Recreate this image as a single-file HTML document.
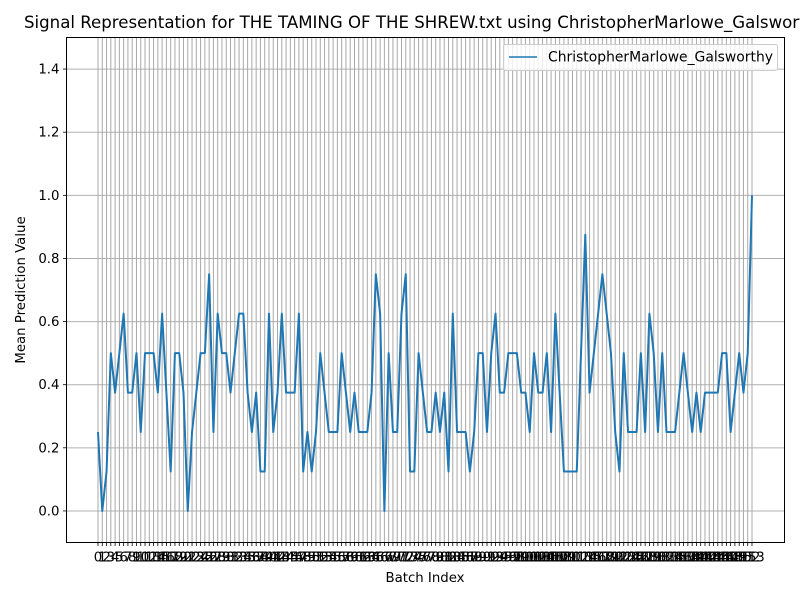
<!DOCTYPE html>
<html><head><meta charset="utf-8"><style>
body{margin:0;background:#fff;font-family:"DejaVu Sans","Liberation Sans",sans-serif;}
svg{display:block}
text{font-family:"DejaVu Sans","Liberation Sans",sans-serif;}
</style></head><body>
<svg id="chart" width="800" height="600" xmlns="http://www.w3.org/2000/svg">
<rect x="0" y="0" width="800" height="600" fill="#fff"/>
<text x="24" y="28" font-size="16.6" fill="#000">Signal Representation for THE TAMING OF THE SHREW.txt using ChristopherMarlowe_Galsworthy</text>
<g id="grid"></g>
<g id="yticks"></g>
<g id="xticks"></g>
<g id="series"></g>
<rect x="66.5" y="37.5" width="718" height="505" fill="none" stroke="#000" stroke-width="1"/>
<text x="425" y="582" font-size="13.3" text-anchor="middle">Batch Index</text>
<text transform="translate(25,290) rotate(-90)" font-size="13.3" text-anchor="middle">Mean Prediction Value</text>
<g>
<rect x="503.5" y="44.5" width="274" height="26" rx="2" fill="#fff" fill-opacity="0.8" stroke="#ccc"/>
<line x1="509" y1="57" x2="537" y2="57" stroke="#1f77b4" stroke-width="1.5"/>
<text x="548" y="61.5" font-size="13.9">ChristopherMarlowe_Galsworthy</text>
</g>
</svg>
<script>
const values = [0.25,0,0.125,0.5,0.375,0.5,0.625,0.375,0.375,0.5,0.25,0.5,0.5,0.5,0.375,0.625,0.375,0.125,0.5,0.5,
0.375,0,0.25,0.375,0.5,0.5,0.75,0.25,0.625,0.5,0.5,0.375,0.5,0.625,0.625,0.375,0.25,0.375,0.125,0.125,
0.625,0.25,0.375,0.625,0.375,0.375,0.375,0.625,0.125,0.25,0.125,0.25,0.5,0.375,0.25,0.25,0.25,0.5,0.375,0.25,
0.375,0.25,0.25,0.25,0.375,0.75,0.625,0,0.5,0.25,0.25,0.625,0.75,0.125,0.125,0.5,0.375,0.25,0.25,0.375,
0.25,0.375,0.125,0.625,0.25,0.25,0.25,0.125,0.25,0.5,0.5,0.25,0.5,0.625,0.375,0.375,0.5,0.5,0.5,0.375,
0.375,0.25,0.5,0.375,0.375,0.5,0.25,0.625,0.375,0.125,0.125,0.125,0.125,0.5,0.875,0.375,0.5,0.625,0.75,0.625,
0.5,0.25,0.125,0.5,0.25,0.25,0.25,0.5,0.25,0.625,0.5,0.25,0.5,0.25,0.25,0.25,0.375,0.5,0.375,0.25,
0.375,0.25,0.375,0.375,0.375,0.375,0.5,0.5,0.25,0.375,0.5,0.375,0.5,1.0];
const yTickValues = [0.0,0.2,0.4,0.6,0.8,1.0,1.2,1.4];
const yTickLabels = ["0.0","0.2","0.4","0.6","0.8","1.0","1.2","1.4"];
const NS="http://www.w3.org/2000/svg";
const L=66.5,R=784.5,T=37.5,B=542.5;
const yMin=-0.1,yMax=1.5;
const n=values.length;
const x0=98,x1=752;
function xs(i){return x0+(x1-x0)*i/(n-1);}
function ys(v){return B-(v-yMin)/(yMax-yMin)*(B-T);}
function mk(tag,attrs,parent){const e=document.createElementNS(NS,tag);for(const k in attrs)e.setAttribute(k,attrs[k]);parent.appendChild(e);return e;}
const grid=document.getElementById('grid'),yt=document.getElementById('yticks'),xt=document.getElementById('xticks'),ser=document.getElementById('series');
yTickValues.forEach((v,k)=>{
  const y=ys(v);
  const g=mk('line',{x1:L,x2:R,y1:y,y2:y,stroke:'#b0b0b0','stroke-width':1},grid);
  
  
  const tk=mk('line',{x1:L-3.5,x2:L,y1:y,y2:y,stroke:'#000','stroke-width':0.8},yt);
  
  
  const t=mk('text',{x:L-7,y:y+4.5,'font-size':13.3,'text-anchor':'end'},yt);
  t.textContent=yTickLabels[k];
  
  
});
for(let i=0;i<n;i++){
  const x=xs(i);
  const g=mk('line',{x1:x,x2:x,y1:T,y2:B,stroke:'#a8a8a8','stroke-width':1},grid);
  
  
  const tk=mk('line',{x1:x,x2:x,y1:B,y2:B+3.5,stroke:'#000','stroke-width':0.8},xt);
  
  
  const t=mk('text',{x:x,y:B+19,'font-size':13.3,'text-anchor':'middle'},xt);
  t.textContent=String(i);
  
  
}
const pts=values.map((v,i)=>xs(i).toFixed(2)+','+ys(v).toFixed(2)).join(' ');
const pl=mk('polyline',{points:pts,fill:'none',stroke:'#1f77b4','stroke-width':2,'stroke-linejoin':'round'},ser);


</script>
</body></html>
